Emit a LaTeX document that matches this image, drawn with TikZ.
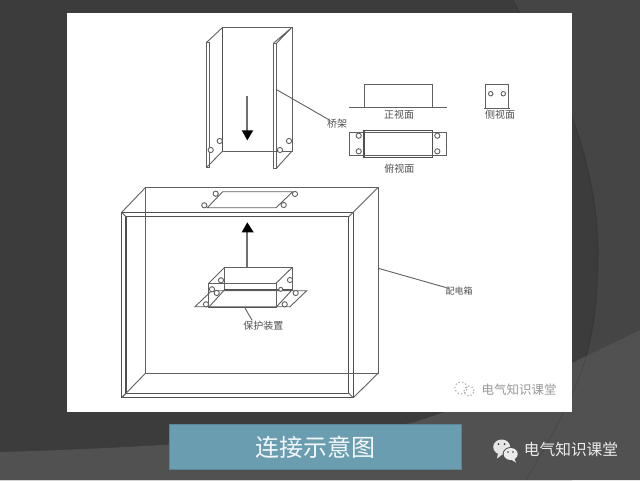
\documentclass[tikz,border=0pt]{standalone}
\usepackage{fontspec}
\newfontfamily\cjk{Noto Sans CJK SC}
\definecolor{bgdark}{HTML}{3C3C3C}
\definecolor{bgmid}{HTML}{454545}
\definecolor{bglight}{HTML}{515151}
\definecolor{ink}{HTML}{606060}
\definecolor{inkb}{HTML}{505050}
\definecolor{banner}{HTML}{6A9DB0}
\tikzset{
  ln/.style={draw=ink,line width=0.9pt},
  thick ln/.style={draw=inkb,line width=1.2pt},
  hole/.style={draw=ink,fill=white,line width=0.9pt,circle,inner sep=0pt,minimum size=5.2pt},
  lbl/.style={font=\cjk\fontsize{10}{10}\selectfont,text=inkb,inner sep=0pt},
  arrowbody/.style={draw=ink!90,line width=1.2pt},
  head/.style={fill=black,draw=none}
}
\begin{document}
\begin{tikzpicture}[x=1pt,y=-1pt]
\useasboundingbox (0,0) rectangle (640,480);
% background
\fill[bgmid] (0,0) rectangle (640,480);
\fill[bgdark] (0,0) -- (513,0) -- (520,13) .. controls (550,60) and (597,150) .. (598,250) .. controls (598,290) and (595,325) .. (586,357) -- (572,480) -- (0,480) -- cycle;
\draw[black,opacity=0.12,line width=1pt] (513,0) -- (520,13) .. controls (550,60) and (597,150) .. (598,250) .. controls (598,290) and (595,325) .. (586,357);
\fill[bglight] (0,452) .. controls (120,449) and (300,438) .. (412,423) -- (445,412) -- (572,363) -- (640,330) -- (640,480) -- (0,480) -- cycle;
\draw[black,opacity=0.12,line width=0.8pt] (586,357) .. controls (575,395) and (555,430) .. (526,480);
% sheet
\fill[white] (67,13) rectangle (571.5,411.5);
% tray
\draw[ln] (222.7,27.3) rectangle (292,151);
\draw[thick ln] (222.7,27.3) -- (222.7,151);
\draw[ln] (206.7,42.3) rectangle (209,167);
\draw[ln] (273.7,43) rectangle (276.7,168);
\draw[ln] (206.7,42.3) -- (222.7,27.3) (273.7,43) -- (292,27.3) (276.7,43) -- (292,27.3);
\draw[ln] (206.7,167) -- (209,165) -- (222.7,151) (276.7,168) -- (292,151);
\node[hole] (h1) at (219.7,141) {};
\node[hole] (h2) at (210.7,150) {};
\node[hole] (h3) at (289,141) {};
\node[hole] (h4) at (280,150) {};
\coordinate (a1s) at (247,96);
\coordinate (a1e) at (247,131);
\draw[arrowbody] (a1s) -- (a1e);
\fill[head] (241.7,130.3) -- (253.3,130.3) -- (247.3,140.3) -- cycle;
\node[lbl] (qj) at (337,123.5) {桥架};
\coordinate (qjs) at (276.7,89.7);
\draw[ln] (qjs) -- ([shift={(2,1)}]qj.north west);
% front view
\draw[ln] (364,107.3) -- (364,84) -- (432.7,84) -- (432.7,107.3);
\draw[ln] (349.3,107.3) -- (446.7,107.3);
\node[lbl] (zs) at (399,115) {正视面};
% top view
\draw[ln] (349.3,132.3) rectangle (446.7,155.3);
\draw[thick ln,fill=white] (364,130.3) rectangle (432.7,157.3);
\draw[ln] (364,132.3) -- (432.7,132.3) (364,155.3) -- (432.7,155.3);
\node[hole] at (358.7,135.7) {};
\node[hole] at (358.7,151.3) {};
\node[hole] at (437.3,135.7) {};
\node[hole] at (437.3,151.3) {};
\node[lbl] (fs) at (399.3,169) {俯视面};
% side view
\draw[ln] (485.7,108) -- (485.7,84) -- (508.3,84) -- (508.3,108);
\draw[ln] (484,108) -- (510,108);
\node[hole,minimum size=4.5pt] at (490.7,93.7) {};
\node[hole,minimum size=4.5pt] at (503.3,93.7) {};
\node[lbl] (cs) at (500,114.7) {侧视面};
% box
\draw[thick ln] (121.7,212.3) rectangle (353.3,397.7);
\draw[thick ln] (126,216.7) rectangle (348.7,393.3);
\draw[ln] (145.7,187.3) rectangle (378.3,373);
\draw[ln] (121.7,212.3) -- (145.7,187.3) (353.3,212.3) -- (378.3,187.3) (353.3,397.7) -- (378.3,373) (121.7,397.7) -- (145.7,373);
\draw[ln] (121.7,212.3) -- (126,216.7) (353.3,212.3) -- (348.7,216.7) (353.3,397.7) -- (348.7,393.3) (121.7,397.7) -- (126,393.3);
% window
\draw[ln] (222.7,191.7) -- (292.7,191.7) -- (276,207.7) -- (207.3,207.7) -- cycle;
\node[hole] at (215.7,193.7) {};
\node[hole] at (295,194) {};
\node[hole] at (204.3,205.3) {};
\node[hole] at (283.7,205) {};
% up arrow
\coordinate (a2s) at (247,267.7);
\coordinate (a2e) at (247,232);
\draw[arrowbody] (a2s) -- (a2e);
\fill[head] (241.7,232.3) -- (253.7,232.3) -- (247.3,222.3) -- cycle;
% device
\draw[ln] (195,306.7) -- (211.7,290.7) -- (306.7,290.7) -- (290,306.7) -- cycle;
\draw[ln] (224.3,267.7) rectangle (292,290);
\draw[ln] (208.7,283.3) rectangle (276,307.3);
\draw[ln] (208.7,283.3) -- (224.3,267.7) (276,283.3) -- (292,267.7) (276,307.3) -- (292,290) (208.7,307.3) -- (224.3,290);
\draw[thick ln] (208.7,307.3) -- (276,307.3) (224.3,289.5) -- (292,289.5);
\node[hole] at (221,280.3) {};
\node[hole] at (290,280) {};
\node[hole] at (212,289.3) {};
\node[hole] at (216.7,293) {};
\node[hole] at (206,304.3) {};
\node[hole,minimum size=4pt] at (280.7,289.3) {};
\node[hole] at (295.7,293) {};
\node[hole] at (284.7,304.3) {};
\node[lbl] (bh) at (263.3,325.7) {保护装置};
\coordinate (bhs) at (245,308);
\draw[ln] (bhs) -- ([shift={(9,-0.5)}]bh.north west);
% panel label
\node[lbl,font=\cjk\fontsize{9}{9}\selectfont] (pd) at (459,291) {配电箱};
\coordinate (pds) at (378.3,268.3);
\draw[ln] (pds) -- ([shift={(1,1)}]pd.north west);
% watermark
\node[font=\cjk\fontsize{12.5}{12.5}\selectfont,text=black!40,inner sep=0pt] (wm) at (519,390) {电气知识课堂};
\draw[black!30,line width=1pt,dash pattern=on 1.5pt off 2pt] (461,388) circle (6pt) (469,391) circle (5pt);
% banner
\node[fill=banner,draw=banner!85!black,minimum width=291.5pt,minimum height=45pt,inner sep=0pt,text=white!92!banner,font=\cjk\fontsize{24}{24}\selectfont] (ban) at (315.2,446.8) {连接示意图};
% wechat
\fill[white!90!black] (501.7,447) ellipse (8.5pt and 7.5pt);
\fill[white!90!black] (498,453) -- (497,458.5) -- (503,454) -- cycle;
\fill[bglight] (510.7,454) ellipse (8pt and 7pt);
\fill[white!92!black] (510.7,454) ellipse (7pt and 6pt);
\fill[white!92!black] (514,458) -- (516,462.5) -- (510,459) -- cycle;
\fill[bglight!70!black] (498.5,444) circle (1pt) (504.5,444) circle (1pt) (508,452) circle (0.8pt) (513,452) circle (0.8pt);
\node[font=\cjk\fontsize{15.7}{15.7}\selectfont,text=white!92!black,inner sep=0pt] (wt) at (571,450) {电气知识课堂};
\end{tikzpicture}
\end{document}
